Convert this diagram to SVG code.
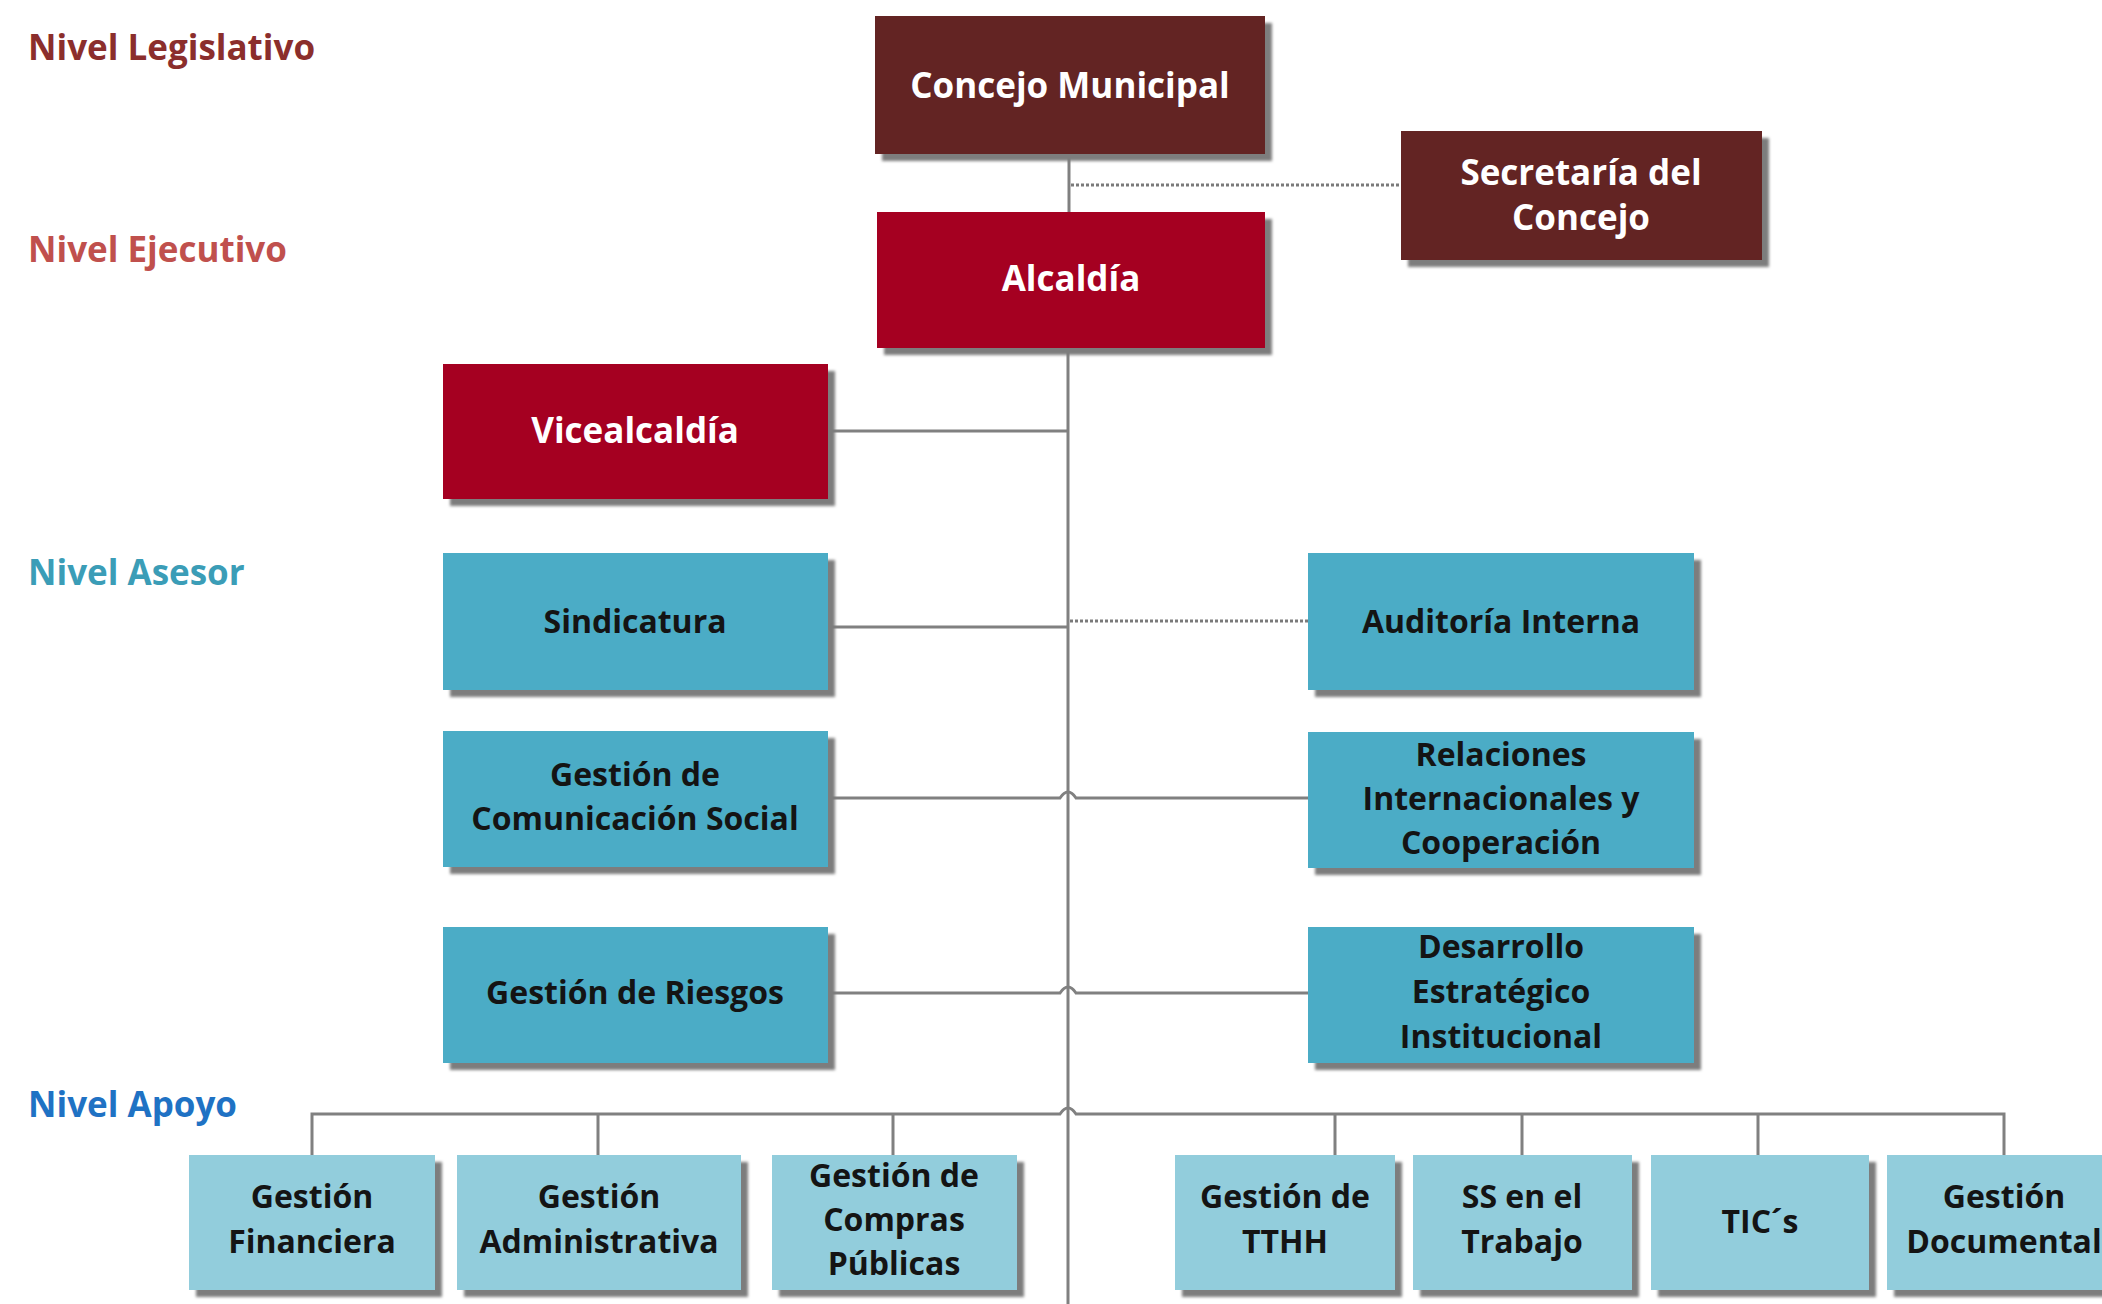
<svg xmlns="http://www.w3.org/2000/svg" width="2102" height="1304" viewBox="0 0 2102 1304">
<defs>
<filter id="blur" x="-5%" y="-5%" width="110%" height="115%"><feGaussianBlur stdDeviation="1.5"/></filter>
</defs>
<style>
.bg{fill:#ffffff}
.sh{fill:#7d7d7d;filter:url(#blur)}
.leg{fill:#632423}
.exe{fill:#A50021}
.ase{fill:#4BACC6}
.apo{fill:#92CDDC}
.t{font-family:"Open Sans","Liberation Sans",sans-serif;font-weight:700;text-anchor:middle}
.tw{fill:#ffffff;font-size:35px}
.tb{fill:#141414;font-size:32px}
.lvl{font-family:"Open Sans","Liberation Sans",sans-serif;font-weight:700;font-size:35px}
.ln{fill:none;stroke:#808080;stroke-width:3}
.dot{fill:none;stroke:#7a7a7a;stroke-width:3;stroke-dasharray:3 2}
</style>
<rect class="bg" x="0" y="0" width="2102" height="1304"/>

<g id="levels">
<text class="lvl" x="28" y="60" fill="#8B2E2C">Nivel Legislativo</text>
<text class="lvl" x="28" y="262" fill="#C0504D">Nivel Ejecutivo</text>
<text class="lvl" x="28" y="585" fill="#3B9DB7">Nivel Asesor</text>
<text class="lvl" x="28" y="1117" fill="#1F72C4">Nivel Apoyo</text>
</g>

<g id="connectors">
<path class="ln" d="M1069 154 V212"/>
<path class="ln" d="M1068 348 V1304"/>
<path class="dot" d="M1071 185 H1401"/>
<path class="ln" d="M828 431 H1068"/>
<path class="ln" d="M828 627 H1068"/>
<path class="dot" d="M1070 621 H1308"/>
<path class="ln" d="M828 798 H1060 Q1068 786 1076 798 H1308"/>
<path class="ln" d="M828 993 H1060 Q1068 981 1076 993 H1308"/>
<path class="ln" d="M312 1155 V1114 H1060 Q1068 1102 1076 1114 H2004 V1155"/>
<path class="ln" d="M598 1114 V1155 M893 1114 V1155 M1335 1114 V1155 M1522 1114 V1155 M1758 1114 V1155"/>
</g>

<g id="concejo">
<rect class="sh" x="882" y="23" width="390" height="138"/>
<rect class="leg" x="875" y="16" width="390" height="138"/>
<text class="t tw" x="1070" y="98">Concejo Municipal</text>
</g>
<g id="secretaria">
<rect class="sh" x="1408" y="138" width="361" height="129"/>
<rect class="leg" x="1401" y="131" width="361" height="129"/>
<text class="t tw" x="1581" y="185">Secretaría del</text>
<text class="t tw" x="1581" y="230">Concejo</text>
</g>
<g id="alcaldia">
<rect class="sh" x="884" y="219" width="388" height="136"/>
<rect class="exe" x="877" y="212" width="388" height="136"/>
<text class="t tw" x="1071" y="291">Alcaldía</text>
</g>
<g id="vicealcaldia">
<rect class="sh" x="450" y="371" width="385" height="135"/>
<rect class="exe" x="443" y="364" width="385" height="135"/>
<text class="t tw" x="635" y="443">Vicealcaldía</text>
</g>
<g id="sindicatura">
<rect class="sh" x="450" y="560" width="385" height="137"/>
<rect class="ase" x="443" y="553" width="385" height="137"/>
<text class="t tb" x="635" y="633">Sindicatura</text>
</g>
<g id="auditoria">
<rect class="sh" x="1315" y="560" width="386" height="137"/>
<rect class="ase" x="1308" y="553" width="386" height="137"/>
<text class="t tb" x="1501" y="633">Auditoría Interna</text>
</g>
<g id="comunicacion">
<rect class="sh" x="450" y="738" width="385" height="136"/>
<rect class="ase" x="443" y="731" width="385" height="136"/>
<text class="t tb" x="635" y="786">Gestión de</text>
<text class="t tb" x="635" y="830">Comunicación Social</text>
</g>
<g id="relaciones">
<rect class="sh" x="1315" y="739" width="386" height="136"/>
<rect class="ase" x="1308" y="732" width="386" height="136"/>
<text class="t tb" x="1501" y="766">Relaciones</text>
<text class="t tb" x="1501" y="810">Internacionales y</text>
<text class="t tb" x="1501" y="854">Cooperación</text>
</g>
<g id="riesgos">
<rect class="sh" x="450" y="934" width="385" height="136"/>
<rect class="ase" x="443" y="927" width="385" height="136"/>
<text class="t tb" x="635" y="1004">Gestión de Riesgos</text>
</g>
<g id="desarrollo">
<rect class="sh" x="1315" y="934" width="386" height="136"/>
<rect class="ase" x="1308" y="927" width="386" height="136"/>
<text class="t tb" x="1501" y="958">Desarrollo</text>
<text class="t tb" x="1501" y="1003">Estratégico</text>
<text class="t tb" x="1501" y="1048">Institucional</text>
</g>
<g id="financiera">
<rect class="sh" x="196" y="1162" width="246" height="135"/>
<rect class="apo" x="189" y="1155" width="246" height="135"/>
<text class="t tb" x="312" y="1208">Gestión</text>
<text class="t tb" x="312" y="1253">Financiera</text>
</g>
<g id="administrativa">
<rect class="sh" x="464" y="1162" width="284" height="135"/>
<rect class="apo" x="457" y="1155" width="284" height="135"/>
<text class="t tb" x="599" y="1208">Gestión</text>
<text class="t tb" x="599" y="1253">Administrativa</text>
</g>
<g id="compras">
<rect class="sh" x="779" y="1162" width="245" height="135"/>
<rect class="apo" x="772" y="1155" width="245" height="135"/>
<text class="t tb" x="894" y="1187">Gestión de</text>
<text class="t tb" x="894" y="1231">Compras</text>
<text class="t tb" x="894" y="1275">Públicas</text>
</g>
<g id="tthh">
<rect class="sh" x="1182" y="1162" width="220" height="135"/>
<rect class="apo" x="1175" y="1155" width="220" height="135"/>
<text class="t tb" x="1285" y="1208">Gestión de</text>
<text class="t tb" x="1285" y="1253">TTHH</text>
</g>
<g id="ss">
<rect class="sh" x="1420" y="1162" width="219" height="135"/>
<rect class="apo" x="1413" y="1155" width="219" height="135"/>
<text class="t tb" x="1522" y="1208">SS en el</text>
<text class="t tb" x="1522" y="1253">Trabajo</text>
</g>
<g id="tics">
<rect class="sh" x="1658" y="1162" width="218" height="135"/>
<rect class="apo" x="1651" y="1155" width="218" height="135"/>
<text class="t tb" x="1760" y="1233">TIC´s</text>
</g>
<g id="documental">
<rect class="sh" x="1894" y="1162" width="235" height="135"/>
<rect class="apo" x="1887" y="1155" width="235" height="135"/>
<text class="t tb" x="2004" y="1208">Gestión</text>
<text class="t tb" x="2004" y="1253">Documental</text>
</g>
</svg>
